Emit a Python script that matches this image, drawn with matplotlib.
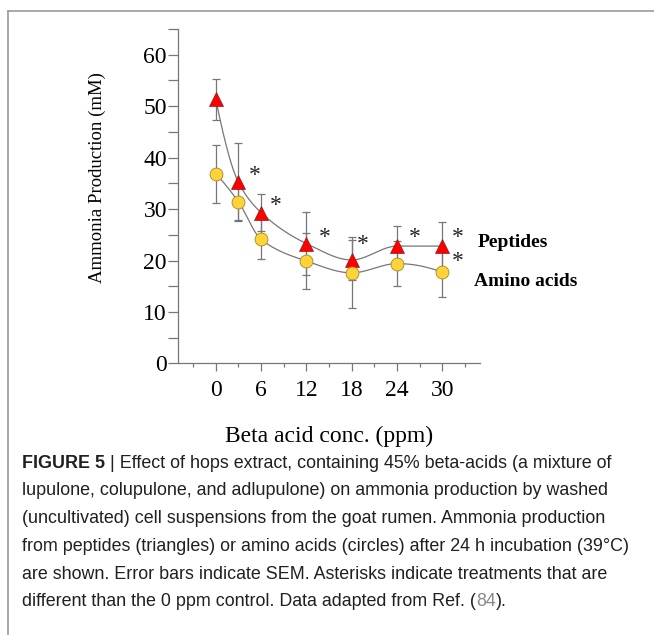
import numpy as np
import matplotlib.pyplot as plt
from matplotlib.ticker import MultipleLocator
from matplotlib.lines import Line2D

# Beta acid concentration (ppm)
conc = [0, 3, 6, 12, 18, 24, 30]

# Ammonia production (mM) and SEM
peptides = [51.3, 35.2, 29.3, 23.3, 20.1, 22.8, 22.8]
peptides_sem = [4.0, 7.6, 3.6, 6.2, 3.8, 3.9, 4.7]
amino_acids = [36.8, 31.4, 24.1, 19.9, 17.6, 19.4, 17.7]
amino_acids_sem = [5.7, 3.5, 3.9, 5.4, 6.9, 4.4, 4.8]

# asterisk positions (concentration, value) marking differences from control
stars_pep = [(5.2, 36.5), (8.0, 30.6), (14.4, 24.4), (19.5, 23.1), (26.3, 24.4), (32.1, 24.4)]
stars_aa = [(32.1, 19.8)]

serif = 'Liberation Serif'


def end_slope(h0, h1, d0, d1):
    m = ((2 * h0 + h1) * d0 - h0 * d1) / (h0 + h1)
    if np.sign(m) != np.sign(d0):
        return 0.0
    if np.sign(d0) != np.sign(d1) and abs(m) > abs(3 * d0):
        return 3 * d0
    return m


def smooth(x, y, n=40):
    # monotone cubic (pchip) curve through the points
    x = np.asarray(x, float)
    y = np.asarray(y, float)
    h = np.diff(x)
    d = np.diff(y) / h
    m = np.zeros_like(y)
    for k in range(1, len(x) - 1):
        if d[k - 1] * d[k] > 0:
            w1 = 2 * h[k] + h[k - 1]
            w2 = h[k] + 2 * h[k - 1]
            m[k] = (w1 + w2) / (w1 / d[k - 1] + w2 / d[k])
    m[0] = end_slope(h[0], h[1], d[0], d[1])
    m[-1] = end_slope(h[-1], h[-2], d[-1], d[-2])
    xs, ys = [], []
    for i in range(len(x) - 1):
        t = np.linspace(0, 1, n)
        h00 = 2 * t**3 - 3 * t**2 + 1
        h10 = t**3 - 2 * t**2 + t
        h01 = -2 * t**3 + 3 * t**2
        h11 = t**3 - t**2
        xs.append(x[i] + t * h[i])
        ys.append(h00 * y[i] + h10 * h[i] * m[i] + h01 * y[i + 1] + h11 * h[i] * m[i + 1])
    return np.concatenate(xs), np.concatenate(ys)


fig = plt.figure(figsize=(6.54, 6.35), dpi=100)
ax = fig.add_axes([0.2722, 0.4276, 0.4618, 0.527])

# frame around figure (top and left edges only)
fig.add_artist(Line2D([8 / 654, 1], [1 - 11 / 635, 1 - 11 / 635], color='#9a9a9a', lw=1.2))
fig.add_artist(Line2D([8 / 654, 8 / 654], [0, 1 - 11 / 635], color='#9a9a9a', lw=1.2))

for y, sem in [(peptides, peptides_sem), (amino_acids, amino_acids_sem)]:
    sx, sy = smooth(conc, y)
    ax.plot(sx, sy, color='#777777', lw=0.9, zorder=2)
    ax.errorbar(conc, y, yerr=sem, fmt='none', ecolor='#777777', elinewidth=0.9,
                capsize=2.6, capthick=0.9, zorder=1)

ax.plot(conc, peptides, linestyle='none', marker='^', ms=9.5, mfc='#ff0000',
        mec='#8a1a1a', mew=0.5, zorder=4)
ax.plot(conc, amino_acids, linestyle='none', marker='o', ms=9.3, mfc='#fdd33a',
        mec='#a8862a', mew=0.6, zorder=4)

for sx, sy in stars_pep + stars_aa:
    ax.text(sx, sy, '*', fontsize=17, family=serif, ha='center', va='center', color='#222222')

ax.text(34.7, 23.5, 'Peptides', fontsize=14, family=serif, weight='bold',
        ha='left', va='center', clip_on=False)
ax.text(34.2, 16.0, 'Amino acids', fontsize=14, family=serif, weight='bold',
        ha='left', va='center', clip_on=False)

ax.set_xlim(-5, 35)
ax.set_ylim(0, 65)
ax.set_xticks([0, 6, 12, 18, 24, 30])
ax.xaxis.set_minor_locator(MultipleLocator(3))
ax.set_yticks([0, 10, 20, 30, 40, 50, 60])
ax.yaxis.set_minor_locator(MultipleLocator(5))
ax.spines['top'].set_visible(False)
ax.spines['right'].set_visible(False)
for s in ['left', 'bottom']:
    ax.spines[s].set_color('#777777')
    ax.spines[s].set_linewidth(0.9)
ax.tick_params(axis='x', which='major', length=6, width=0.9, color='#777777', pad=6)
ax.tick_params(axis='x', which='minor', length=3, width=0.9, color='#777777')
ax.tick_params(axis='y', which='both', length=7, width=0.9, color='#777777', pad=1)
for lab in ax.get_xticklabels() + ax.get_yticklabels():
    lab.set_family(serif)
    lab.set_fontsize(17)

ax.set_xlabel('Beta acid conc. (ppm)', family=serif, fontsize=17, labelpad=18)
ax.set_ylabel('Ammonia Production (mM)', family=serif, fontsize=13.5)
ax.yaxis.set_label_coords(-0.24, 0.555)

# caption
cap_font = ['Liberation Sans', 'DejaVu Sans']
cap_size = 12.9
cap_color = '#231f20'
lines = [
    ' | Effect of hops extract, containing 45% beta-acids (a mixture of',
    'lupulone, colupulone, and adlupulone) on ammonia production by washed',
    '(uncultivated) cell suspensions from the goat rumen. Ammonia production',
    'from peptides (triangles) or amino acids (circles) after 24 h incubation (39°C)',
    'are shown. Error bars indicate SEM. Asterisks indicate treatments that are',
    'different than the 0 ppm control. Data adapted from Ref. (',
]
x0 = 22 / 654
y_first = 1 - 463 / 635
step = 27.8 / 635

t = fig.text(x0, y_first, 'FIGURE 5', family=cap_font, fontsize=cap_size,
             weight='bold', color=cap_color, va='center')
ax.annotate(lines[0], xy=(1, 0), xycoords=t, va='bottom', ha='left',
            family=cap_font, fontsize=cap_size, color=cap_color, annotation_clip=False)
for i, line in enumerate(lines[1:], start=1):
    t = fig.text(x0, y_first - i * step, line, family=cap_font, fontsize=cap_size,
                 color=cap_color, va='center')
t2 = ax.annotate('84', xy=(1, 0), xycoords=t, va='bottom', ha='left',
                 family=cap_font, fontsize=cap_size, color='#8a8a8a', annotation_clip=False)
ax.annotate(').', xy=(1, 0), xycoords=t2, va='bottom', ha='left',
            family=cap_font, fontsize=cap_size, color=cap_color, annotation_clip=False)

fig.savefig('out.png', dpi=100)
